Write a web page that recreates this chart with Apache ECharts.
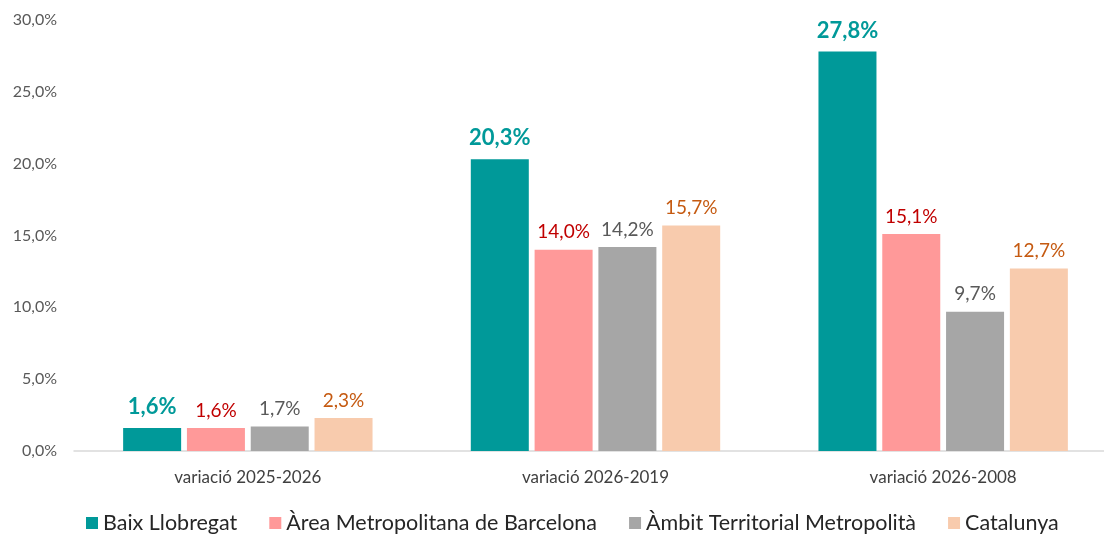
<!DOCTYPE html>
<html>
<head>
<meta charset="utf-8">
<script src="https://cdn.jsdelivr.net/npm/echarts@6/dist/echarts.min.js"></script>
<style>
  html, body { margin: 0; padding: 0; background: #fff; overflow: hidden; }
  #chart { width: 1117px; height: 534px; }
</style>
</head>
<body>
<div id="chart"></div>
<script>
const categories = ["variació 2025-2026", "variació 2026-2019", "variació 2026-2008"];
const baixLlobregat = [1.6, 20.3, 27.8];
const areaMetropolitana = [1.6, 14.0, 15.1];
const ambitTerritorial = [1.7, 14.2, 9.7];
const catalunya = [2.3, 15.7, 12.7];
const yTicks = [0, 5, 10, 15, 20, 25, 30];

const font = "Lato";
const fmt = (v) => v.toFixed(1).replace(".", ",") + "%";

const makeSeries = (name, data, color, labelColor, bold) => ({
  name: name,
  type: "bar",
  data: data,
  barWidth: 58,
  barGap: "10%",
  itemStyle: { color: color },
  label: {
    show: true,
    position: "top",
    distance: bold ? 10 : 8,
    fontFamily: font,
    fontSize: bold ? 22 : 19,
    fontWeight: bold ? "bold" : "normal",
    color: labelColor,
    formatter: (p) => fmt(p.value)
  }
});

// canvas is a little wider than the window: the plot runs past the right edge like the original
const myChart = echarts.init(document.getElementById("chart"));
const option = {
  animation: false,
  grid: { left: 74, top: 20, right: 0, height: 431 },
  legend: {
    top: 507,
    left: 81,
    itemWidth: 12,
    itemHeight: 12,
    itemGap: 32,
    icon: "rect",
    textStyle: { fontFamily: font, fontSize: 21.5, color: "#262626" },
    data: ["Baix Llobregat", "Àrea Metropolitana de Barcelona", "Àmbit Territorial Metropolità", "Catalunya"]
  },
  xAxis: {
    type: "category",
    data: categories,
    axisLine: { lineStyle: { color: "#D9D9D9", width: 1.5 } },
    axisTick: { show: false },
    axisLabel: { fontFamily: font, fontSize: 17, color: "#404040", margin: 18 }
  },
  yAxis: {
    type: "value",
    min: yTicks[0],
    max: yTicks[yTicks.length - 1],
    interval: 5,
    splitLine: { show: false },
    axisLine: { show: false },
    axisTick: { show: false },
    axisLabel: { fontFamily: font, fontSize: 16, color: "#595959", margin: 17, formatter: (v) => fmt(v) }
  },
  series: [
    makeSeries("Baix Llobregat", baixLlobregat, "#009999", "#009999", true),
    makeSeries("Àrea Metropolitana de Barcelona", areaMetropolitana, "#FF9999", "#C00000", false),
    makeSeries("Àmbit Territorial Metropolità", ambitTerritorial, "#A6A6A6", "#595959", false),
    makeSeries("Catalunya", catalunya, "#F8CBAD", "#C55A11", false)
  ]
};
myChart.setOption(option);
</script>
</body>
</html>
